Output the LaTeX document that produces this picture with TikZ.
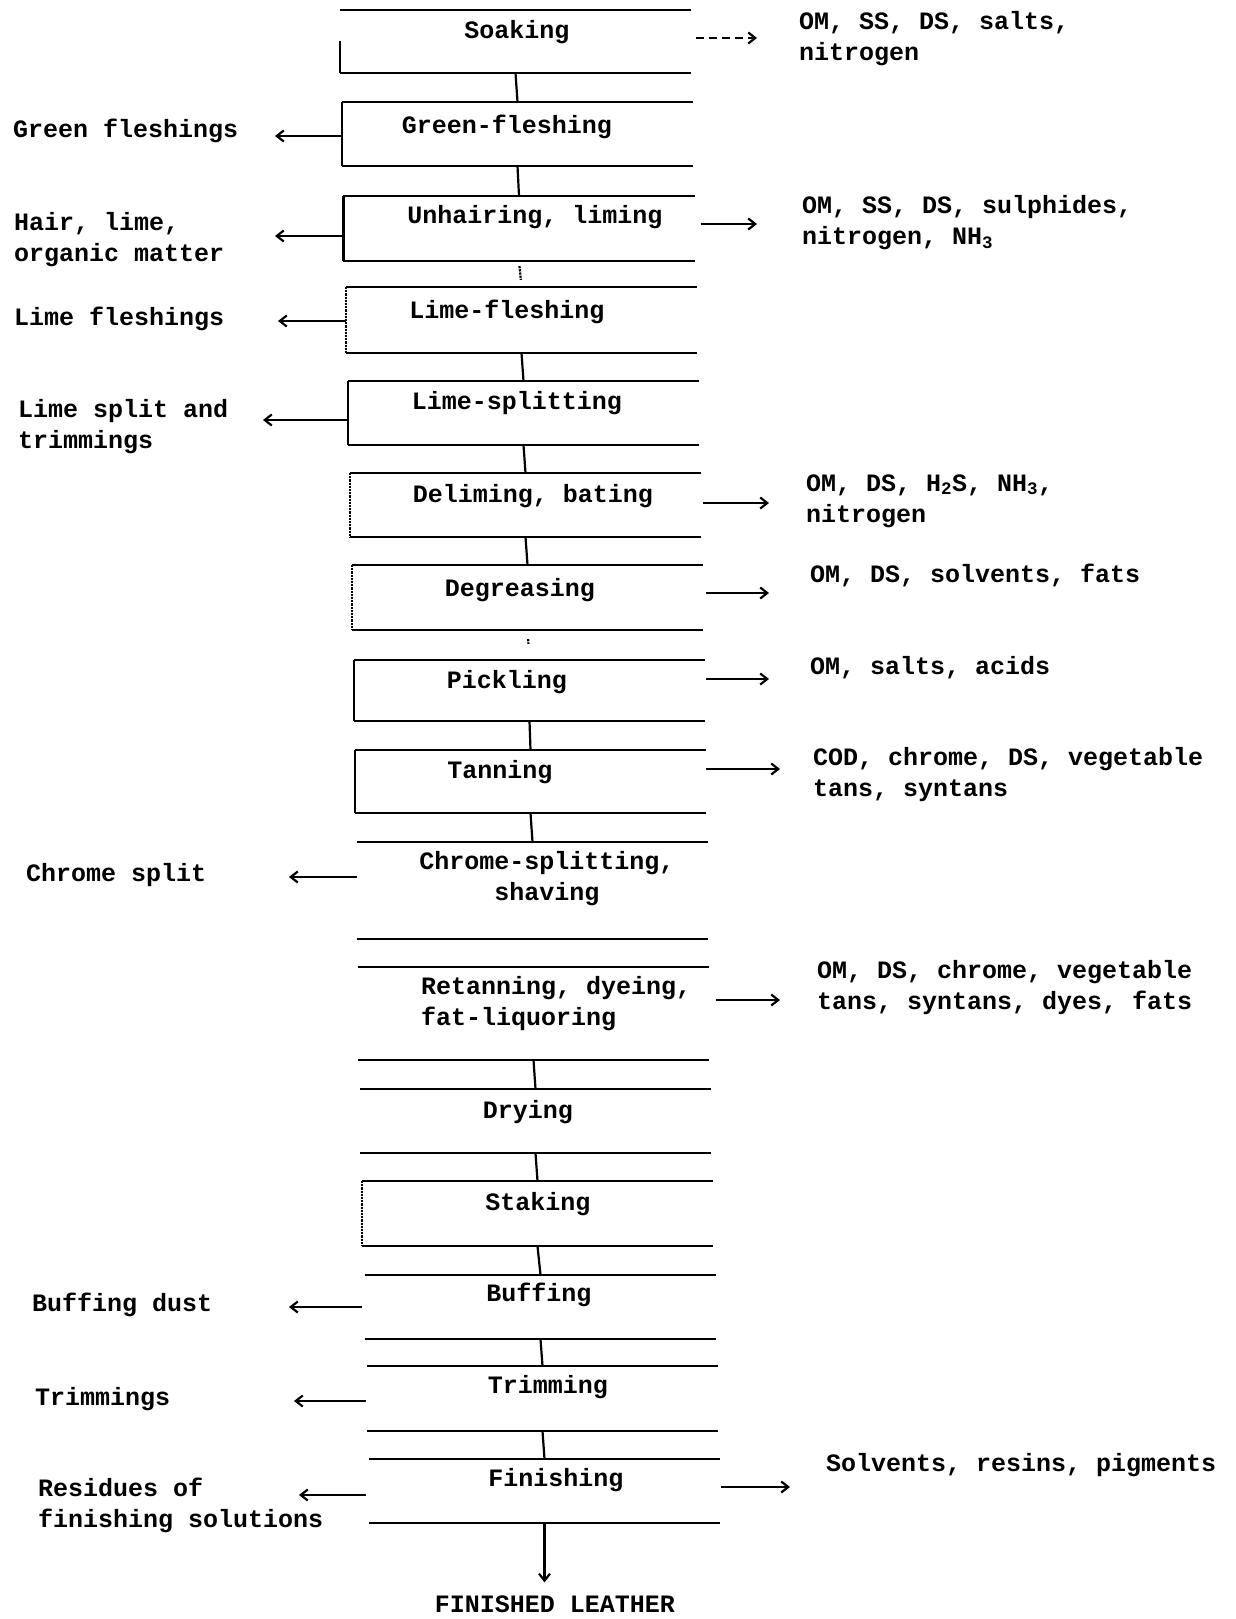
\documentclass[tikz,border=0pt]{standalone}
\usepackage{fontspec}
\setmainfont{Liberation Mono}
\usetikzlibrary{arrows.meta,positioning,calc}
\tikzset{
stage/.style = {rectangle, minimum width=349pt, inner sep=0pt},
steptext/.style = {font=\bfseries\fontsize{25}{31}\selectfont, inner sep=0pt, align=center},
waste/.style = {font=\bfseries\fontsize{25}{31}\selectfont, inner sep=0pt, anchor=west, align=left},
tmp/.style = {coordinate}
}
\begin{document}
\begin{tikzpicture}[x=1pt, y=-1pt, >={Straight Barb[length=7pt,width=11pt]}, line width=2.2pt]
\useasboundingbox (0,0) rectangle (1235,1619);

% process boxes
\node [stage, minimum height=61pt] (soaking) at (515.5,41.5) {};
\node [stage, minimum height=62pt] (fleshing1) at (517.5,134) {};
\node [stage, minimum height=63pt] (unhairing) at (519,228.5) {};
\node [stage, minimum height=64pt] (fleshing2) at (521.5,320) {};
\node [stage, minimum height=62pt] (splitting1) at (523.5,413) {};
\node [stage, minimum height=62pt] (deliming) at (525.5,505) {};
\node [stage, minimum height=63pt] (degreasing) at (527.5,597.5) {};
\node [stage, minimum height=59pt] (pickling) at (529.5,690.5) {};
\node [stage, minimum height=61pt] (tanning) at (530.5,781.5) {};
\node [stage, minimum height=95pt] (splitting2) at (532.5,890.5) {};
\node [stage, minimum height=91pt] (retanning) at (533.5,1013.5) {};
\node [stage, minimum height=62pt] (drying) at (535.5,1121) {};
\node [stage, minimum height=63pt] (staking) at (537.5,1213.5) {};
\node [stage, minimum height=62pt] (buffing) at (540.5,1307) {};
\node [stage, minimum height=63pt] (trimming) at (542.5,1398.5) {};
\node [stage, minimum height=62pt] (finishing) at (544.5,1491) {};

% step names
\node [steptext] (soakingtext) at (517,32) {Soaking};
\node [steptext] (fleshing1text) at (507,127) {Green-fleshing};
\node [steptext] (unhairingtext) at (535,217) {Unhairing, liming};
\node [steptext] (fleshing2text) at (507,312) {Lime-fleshing};
\node [steptext] (splitting1text) at (517,403) {Lime-splitting};
\node [steptext] (delimingtext) at (533,496) {Deliming, bating};
\node [steptext] (degreasingtext) at (520,590) {Degreasing};
\node [steptext] (picklingtext) at (507,682) {Pickling};
\node [steptext] (tanningtext) at (500,772) {Tanning};
\node [steptext] (splitting2text) at (547,879) {Chrome-splitting,\\shaving};
\node [steptext, align=left, anchor=west] (retanningtext) at (420,1004) {Retanning, dyeing,\\fat-liquoring};
\node [steptext] (dryingtext) at (528,1112) {Drying};
\node [steptext] (stakingtext) at (538,1204) {Staking};
\node [steptext] (buffingtext) at (539,1295) {Buffing};
\node [steptext] (trimmingtext) at (548,1387) {Trimming};
\node [steptext] (finishingtext) at (556,1480) {Finishing};
\node [steptext] (leather) at (555,1604) {FINISHED LEATHER};

% box lines
\foreach \b in {soaking,fleshing1,unhairing,fleshing2,splitting1,deliming,degreasing,pickling,tanning,splitting2,retanning,drying,staking,buffing,trimming,finishing}
  \draw (\b.north west) -- (\b.north east) (\b.south west) -- (\b.south east);
\foreach \b in {fleshing1,unhairing,splitting1,pickling,tanning}
  \draw (\b.north west) -- (\b.south west);
\draw (soaking.west) -- (soaking.south west);
\foreach \b in {fleshing2,deliming,degreasing,staking}
  \draw [densely dotted] (\b.north west) -- (\b.south west);

% flow
\foreach \a/\b in {soaking/fleshing1,fleshing1/unhairing,fleshing2/splitting1,splitting1/deliming,deliming/degreasing,pickling/tanning,tanning/splitting2,retanning/drying,drying/staking,staking/buffing,buffing/trimming,trimming/finishing}
  \draw (\a.south) -- (\b.north);
\draw [densely dotted, shorten <=5pt, shorten >=7pt] (unhairing.south) -- (fleshing2.north);
\draw [densely dotted, shorten <=9pt, shorten >=16pt] (degreasing.south) -- (pickling.north);
\draw [->, shorten >=12pt] (finishing.south) -- (finishing.south |- leather.north);

% solid wastes
\node [waste] (waste1) at (12,131) {Green fleshings};
\node [waste] (waste2) at (13,240) {Hair, lime,\\organic matter};
\node [waste] (waste3) at (13,319) {Lime fleshings};
\node [waste] (waste4) at (17,427) {Lime split and\\trimmings};
\node [waste] (waste5) at (25,875) {Chrome split};
\node [waste] (waste6) at (31,1305) {Buffing dust};
\node [waste] (waste7) at (34,1399) {Trimmings};
\node [waste] (waste8) at (37,1505) {Residues of\\finishing solutions};

\coordinate (w1) at (275,136);
\coordinate (w2) at (275,236);
\coordinate (w3) at (278,321);
\coordinate (w4) at (263,420);
\coordinate (w5) at (289,877);
\coordinate (w6) at (289,1307);
\coordinate (w7) at (294,1401);
\coordinate (w8) at (299,1495);
\draw [->] (fleshing1.west |- w1) -- (w1);
\draw [->] (unhairing.west |- w2) -- (w2);
\draw [->] (fleshing2.west |- w3) -- (w3);
\draw [->] (splitting1.west |- w4) -- (w4);
\draw [->] (splitting2.west |- w5) -- (w5);
\draw [->, shorten <=3pt] (buffing.west |- w6) -- (w6);
\draw [->, shorten <=1pt] (trimming.west |- w7) -- (w7);
\draw [->, shorten <=3pt] (finishing.west |- w8) -- (w8);

% effluents
\node [waste] (out1) at (798,39) {OM, SS, DS, salts,\\nitrogen};
\node [waste] (out2) at (801,223) {OM, SS, DS, sulphides,\\nitrogen, NH\textsubscript{3}};
\node [waste] (out3) at (805,501) {OM, DS, H\textsubscript{2}S, NH\textsubscript{3},\\nitrogen};
\node [waste] (out4) at (809,575) {OM, DS, solvents, fats};
\node [waste] (out5) at (809,668) {OM, salts, acids};
\node [waste] (out6) at (812,775) {COD, chrome, DS, vegetable\\tans, syntans};
\node [waste] (out7) at (816,988) {OM, DS, chrome, vegetable\\tans, syntans, dyes, fats};
\node [waste] (out8) at (825,1465) {Solvents, resins, pigments};

\coordinate (o1) at (757,38);
\coordinate (o2) at (757,224);
\coordinate (o3) at (769,503);
\coordinate (o4) at (769,593);
\coordinate (o5) at (769,679);
\coordinate (o6) at (780,769);
\coordinate (o7) at (780,1000);
\coordinate (o8) at (790,1487);
\draw [->, dash pattern=on 8pt off 5pt, shorten <=5pt] (soaking.east |- o1) -- (o1);
\draw [->, shorten <=6pt] (unhairing.east |- o2) -- (o2);
\draw [->, shorten <=2pt] (deliming.east |- o3) -- (o3);
\draw [->, shorten <=3pt] (degreasing.east |- o4) -- (o4);
\draw [->, shorten <=1pt] (pickling.east |- o5) -- (o5);
\draw [->] (tanning.east |- o6) -- (o6);
\draw [->, shorten <=7pt] (retanning.east |- o7) -- (o7);
\draw [->, shorten <=1pt] (finishing.east |- o8) -- (o8);
\end{tikzpicture}
\end{document}
